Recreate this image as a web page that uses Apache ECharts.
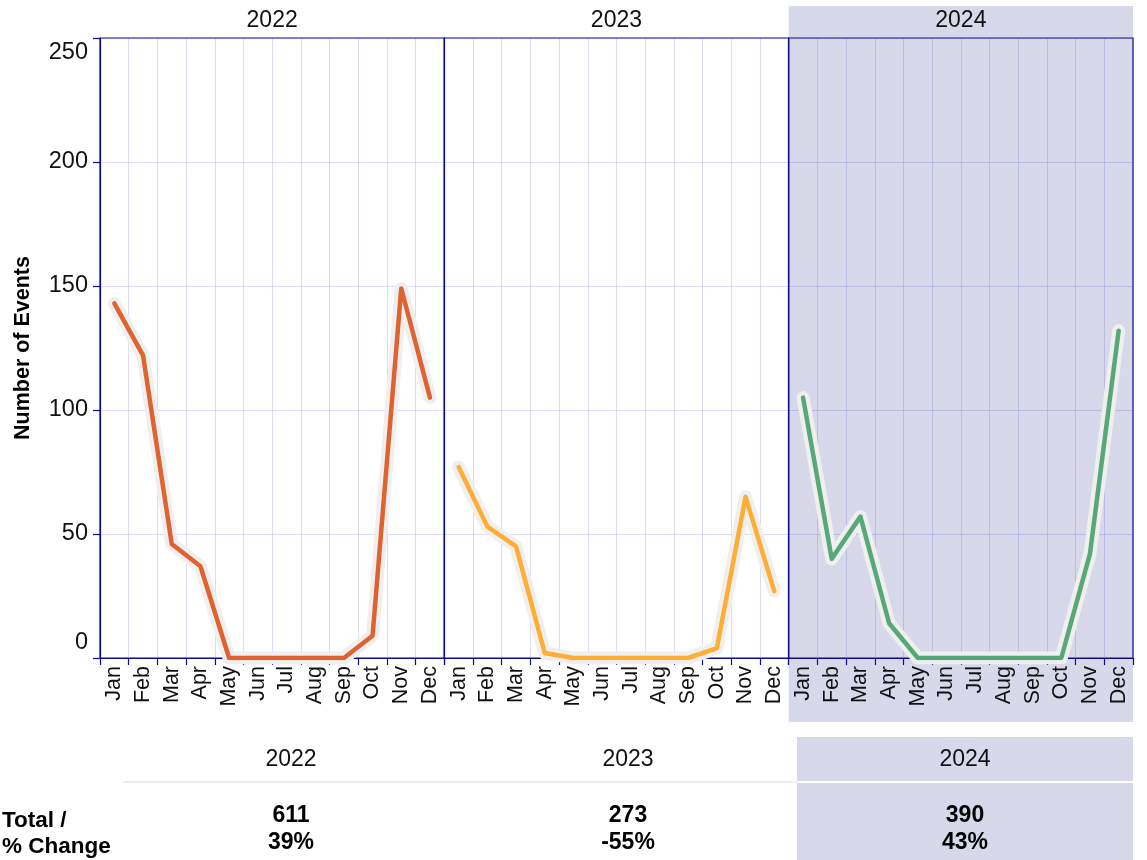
<!DOCTYPE html>
<html>
<head>
<meta charset="utf-8">
<script src="https://cdn.jsdelivr.net/npm/echarts@6/dist/echarts.min.js"></script>
<style>
  html, body { margin: 0; padding: 0; background: #fff; }
  #chart { width: 1147px; height: 860px; }
</style>
</head>
<body>
<div id="chart"></div>
<script>
// data
const months = ['Jan', 'Feb', 'Mar', 'Apr', 'May', 'Jun', 'Jul', 'Aug', 'Sep', 'Oct', 'Nov', 'Dec']
const years = ['2022', '2023', '2024']
const events2022 = [143, 122, 46, 37, 0, 0, 0, 0, 0, 9, 149, 105]
const events2023 = [77, 53, 45, 2, 0, 0, 0, 0, 0, 4, 65, 27]
const events2024 = [105, 40, 57, 14, 0, 0, 0, 0, 0, 0, 42, 132]
const totals = [611, 273, 390]
const pctChange = ['39%', '-55%', '43%']

const lineColors = ['#e0622f', '#ffad33', '#56a878']
const navy = '#0c0c86'
const gridLine = 'rgba(80, 80, 200, 0.2)'
const lavender = '#d7d8ea'
const font = 'Liberation Sans, Arial, sans-serif'

const seriesData = [events2022, events2023, events2024]
const panelLeft = [100, 444.3, 788.7]
const panelW = 344.3
const plotTop = 38, plotH = 620

let myChart = echarts.init(document.getElementById('chart'))

let grids = [], xAxes = [], yAxes = [], series = []
years.forEach((y, i) => {
  grids.push({
    left: panelLeft[i], top: plotTop, width: panelW, height: plotH,
    show: true, borderColor: navy, borderWidth: 1.2,
    backgroundColor: 'transparent'
  })
  xAxes.push({
    type: 'category', gridIndex: i, data: months, boundaryGap: true,
    axisLine: { show: true, lineStyle: { color: navy, width: 1.2 } },
    axisTick: { show: true, length: 7, lineStyle: { color: navy, width: 1.2 } },
    splitLine: { show: true, lineStyle: { color: gridLine, width: 1 } },
    axisLabel: { rotate: 90, margin: 8, color: '#111', fontSize: 21.5, fontFamily: font }
  })
  yAxes.push({
    type: 'value', gridIndex: i, min: 0, max: 250, interval: 50,
    name: i === 0 ? 'Number of Events' : '',
    nameLocation: 'middle', nameRotate: 90, nameGap: 66,
    nameTextStyle: { color: '#000', fontSize: 21.5, fontWeight: 'bold', fontFamily: font },
    axisLine: { show: true, lineStyle: { color: navy, width: 1.2 } },
    axisTick: { show: i === 0, length: 7, lineStyle: { color: navy, width: 1.2 } },
    splitLine: { show: true, lineStyle: { color: gridLine, width: 1 } },
    axisLabel: {
      show: i === 0, margin: 12, color: '#111', fontSize: 23.5, fontFamily: font,
      padding: [3, 0, 3, 0],
      verticalAlignMaxLabel: 'top', verticalAlignMinLabel: 'bottom'
    }
  })
  // pale halo under the line
  series.push({
    type: 'line', xAxisIndex: i, yAxisIndex: i, data: seriesData[i],
    symbol: 'none', silent: true, z: 3,
    lineStyle: { color: '#efefef', width: 13, cap: 'round', join: 'round' }
  })
  series.push({
    type: 'line', xAxisIndex: i, yAxisIndex: i, data: seriesData[i],
    symbol: 'none', z: 4,
    lineStyle: { color: lineColors[i], width: 4.5, cap: 'round', join: 'round' }
  })
})

// headers above panels + the summary table underneath
let graphics = [
  { type: 'rect', z: -1, shape: { x: panelLeft[2], y: 6, width: panelW, height: 716 }, style: { fill: lavender } },
  { type: 'rect', z: -1, shape: { x: 797, y: 737, width: 336, height: 44 }, style: { fill: lavender } },
  { type: 'rect', z: -1, shape: { x: 797, y: 783, width: 336, height: 77 }, style: { fill: lavender } },
  { type: 'rect', z: -1, shape: { x: 123, y: 781, width: 674, height: 2 }, style: { fill: '#efefef' } },
  { type: 'text', x: 2, y: 821, style: { text: 'Total /', fontSize: 22.5, fontWeight: 'bold', fontFamily: font, fill: '#000', verticalAlign: 'middle' } },
  { type: 'text', x: 2, y: 847, style: { text: '% Change', fontSize: 22.5, fontWeight: 'bold', fontFamily: font, fill: '#000', verticalAlign: 'middle' } }
]
const tableCenter = [291, 628, 965]
years.forEach((y, i) => {
  graphics.push({
    type: 'text', x: panelLeft[i] + panelW / 2, y: 21,
    style: { text: y, fontSize: 23, fontFamily: font, fill: '#111', align: 'center', verticalAlign: 'middle' }
  })
  graphics.push({
    type: 'text', x: tableCenter[i], y: 760,
    style: { text: y, fontSize: 23, fontFamily: font, fill: '#111', align: 'center', verticalAlign: 'middle' }
  })
  graphics.push({
    type: 'text', x: tableCenter[i], y: 816,
    style: { text: String(totals[i]), fontSize: 23, fontWeight: 'bold', fontFamily: font, fill: '#000', align: 'center', verticalAlign: 'middle' }
  })
  graphics.push({
    type: 'text', x: tableCenter[i], y: 843,
    style: { text: pctChange[i], fontSize: 23, fontWeight: 'bold', fontFamily: font, fill: '#000', align: 'center', verticalAlign: 'middle' }
  })
})

let option = {
  animation: false,
  backgroundColor: '#fff',
  grid: grids,
  xAxis: xAxes,
  yAxis: yAxes,
  series: series,
  graphic: { elements: graphics }
}
myChart.setOption(option)
window.addEventListener('resize', () => myChart.resize())
</script>
</body>
</html>
